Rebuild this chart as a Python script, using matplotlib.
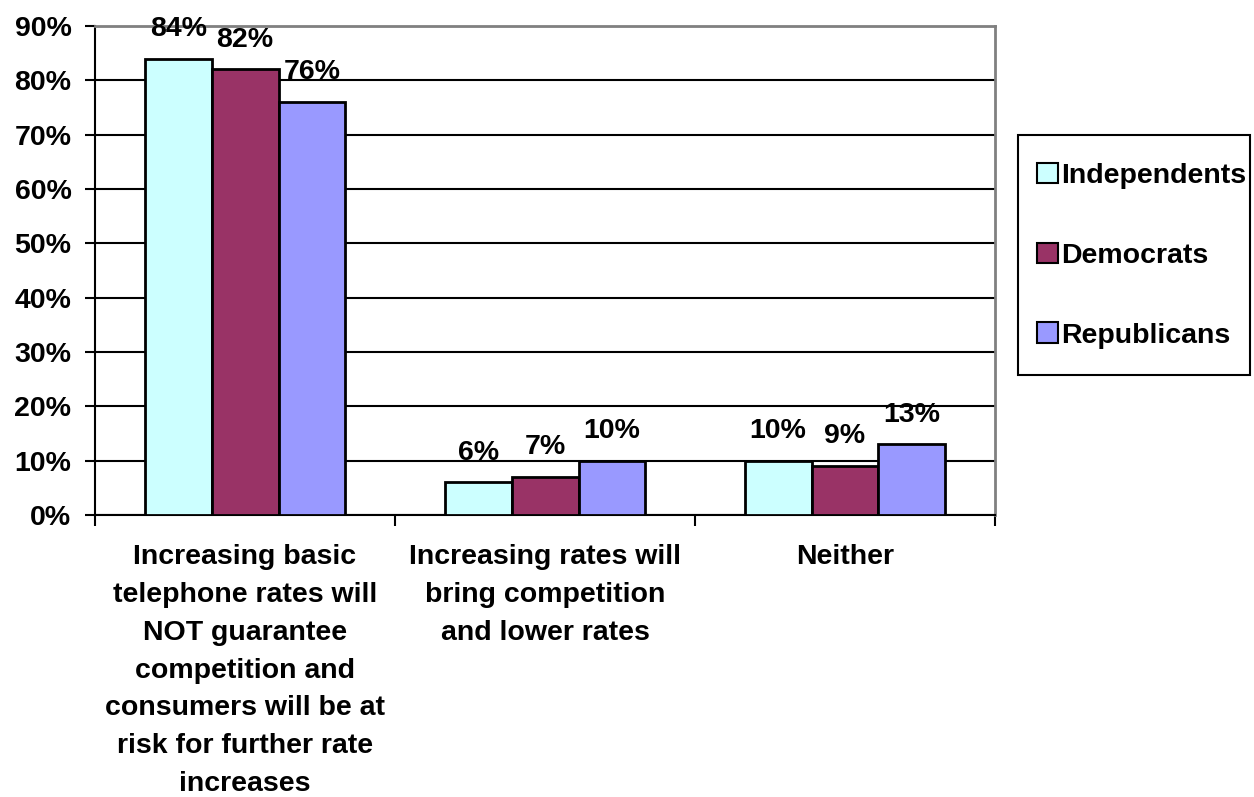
import numpy as np
import matplotlib
matplotlib.use("Agg")
import matplotlib.pyplot as plt
from matplotlib.patches import Rectangle

plt.rcParams['font.family'] = ['Liberation Sans', 'DejaVu Sans']
plt.rcParams['font.weight'] = 'bold'

categories = ["Increasing basic\ntelephone rates will\nNOT guarantee\ncompetition and\nconsumers will be at\nrisk for further rate\nincreases",
              "Increasing rates will\nbring competition\nand lower rates",
              "Neither"]
series = ["Independents", "Democrats", "Republicans"]
independents = [84, 6, 10]
democrats = [82, 7, 9]
republicans = [76, 10, 13]
colors = ["#CCFFFF", "#993366", "#9999FF"]

fs = 20.5

fig = plt.figure(figsize=(12.54, 7.97), dpi=100)
ax = fig.add_axes([0.0758, 0.3538, 0.7177, 0.6136])

x = np.arange(len(categories))
w = 0.223
vals = [independents, democrats, republicans]
handles = []
for i, (name, v, c) in enumerate(zip(series, vals, colors)):
    bars = ax.bar(x + (i - 1) * w, v, w, color=c, edgecolor='black', linewidth=2,
                  label=name, zorder=3)
    handles.append(bars)
    for b, val in zip(bars, v):
        ax.annotate(f"{val}%", (b.get_x() + b.get_width() / 2, val),
                    xytext=(0, 12), textcoords='offset points',
                    ha='center', va='bottom', fontsize=fs, fontweight='bold',
                    zorder=5, annotation_clip=False)

ax.set_ylim(0, 90)
ax.set_xlim(-0.5, 2.5)
ax.set_yticks(np.arange(0, 91, 10))
ax.set_yticklabels([f"{t}%" for t in range(0, 91, 10)], fontsize=fs, fontweight='bold')
ax.yaxis.grid(True, color='black', linewidth=1.5, zorder=0)
ax.set_axisbelow(True)

# category boundaries get the tick marks, centres get the labels
ax.set_xticks([-0.5, 0.5, 1.5, 2.5])
ax.set_xticklabels([])
ax.set_xticks(x, minor=True)
ax.set_xticklabels(categories, minor=True, fontsize=fs, fontweight='bold',
                   linespacing=1.59, va='top')
ax.tick_params(axis='x', which='minor', length=0, pad=21)
ax.tick_params(axis='x', which='major', length=8, width=1.5, direction='out')
ax.tick_params(axis='y', length=7, width=1.5, direction='out', pad=10)

for s in ['left', 'bottom']:
    ax.spines[s].set_color('black')
    ax.spines[s].set_linewidth(1.5)
for s in ['top', 'right']:
    ax.spines[s].set_color('#808080')
    ax.spines[s].set_linewidth(2)

# legend box drawn separately so the padding can be lopsided like the original
fig.patches.append(Rectangle((0.8118, 0.5295), 0.185, 0.3011, transform=fig.transFigure,
                             facecolor='white', edgecolor='black', linewidth=1.5))
leg = fig.legend(handles=handles, loc='upper left', bbox_to_anchor=(0.827, 0.796),
                 prop={'weight': 'bold', 'size': fs}, frameon=False,
                 handlelength=0.72, handleheight=0.72, handletextpad=0.12,
                 labelspacing=1.89, borderpad=0, borderaxespad=0)
for p in leg.get_patches():
    p.set_linewidth(1.5)

fig.savefig("out.png", dpi=100)
